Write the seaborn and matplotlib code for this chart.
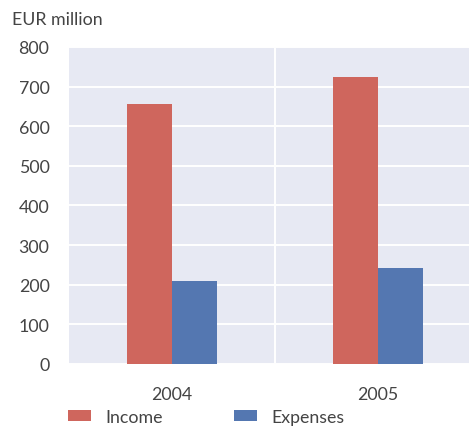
import matplotlib
matplotlib.use("Agg")
import matplotlib.pyplot as plt
from matplotlib.ticker import FixedLocator
import seaborn as sns
import pandas as pd

# Values in EUR million
years = ["2004", "2005"]
income = [656, 724]
expenses = [210, 242]
series_names = ["Income", "Expenses"]
y_ticks = [0, 100, 200, 300, 400, 500, 600, 700, 800]

df = pd.DataFrame({
    "year": years * 2,
    "value": income + expenses,
    "series": [series_names[0]] * len(years) + [series_names[1]] * len(years),
})

sns.set_theme(style="darkgrid")
plt.rcParams["font.family"] = ["Lato", "DejaVu Sans"]
text_color = "#444444"
bg = "#e7e9f3"
palette = {"Income": "#cf665d", "Expenses": "#5477b1"}
fs = 12.8

fig = plt.figure(figsize=(4.69, 4.27), dpi=100)
ax = fig.add_axes([0.147, 0.1452, 0.8785, 0.7424])
ax.set_facecolor(bg)

sns.barplot(data=df, x="year", y="value", hue="series", palette=palette,
            width=0.44, saturation=1, linewidth=0, ax=ax, legend=True)

ax.set_xlim(-0.5, 1.5)
ax.set_ylim(0, 800)
ax.set_yticks(y_ticks)
ax.set_xlabel("")
ax.set_ylabel("")
for s in ax.spines.values():
    s.set_visible(False)

# horizontal grid on values, one vertical separator between years
ax.grid(False)
ax.yaxis.grid(True, color="white", linewidth=1.4)
ax.xaxis.set_minor_locator(FixedLocator([0.5]))
ax.xaxis.grid(True, which="minor", color="white", linewidth=1.4)
ax.set_axisbelow(True)

ax.tick_params(axis="both", which="both", length=0, labelsize=fs,
               labelcolor=text_color)
ax.tick_params(axis="y", pad=14)
ax.tick_params(axis="x", pad=16)

handles, labels = ax.get_legend_handles_labels()
ax.get_legend().remove()
fig.legend(handles, labels, loc="center left", bbox_to_anchor=(0.145, 0.021),
           ncol=2, frameon=False, fontsize=fs, handlelength=1.3,
           handleheight=0.6, columnspacing=4.0, handletextpad=0.8,
           borderpad=0, borderaxespad=0, labelcolor=text_color)

fig.text(0.025, 0.953, "EUR million", fontsize=fs, color=text_color,
         ha="left", va="center")

fig.savefig("out.png", dpi=100)
